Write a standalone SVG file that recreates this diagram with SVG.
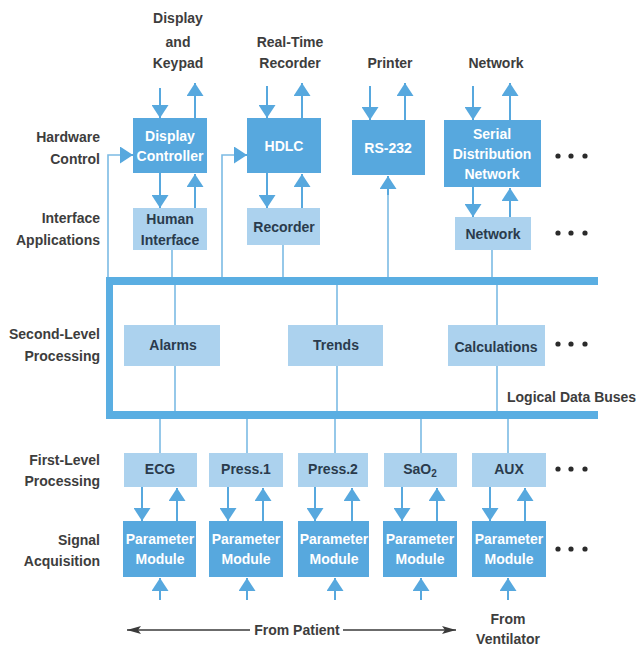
<svg xmlns="http://www.w3.org/2000/svg" width="640" height="647" viewBox="0 0 640 647">
<style>
text{font-family:"Liberation Sans",Arial,sans-serif;font-size:14px;font-weight:bold}
.lbl{fill:#3d3d3d}
.lblr{fill:#3d3d3d;text-anchor:end}
.dark{fill:#57a8de}
.light{fill:#acd2ee}
.wt{fill:#ffffff;text-anchor:middle}
.bt{fill:#2a3b4c;text-anchor:middle}
.ct{fill:#3d3d3d;text-anchor:middle}
.bus{fill:#5aaee2}
.ln{stroke:#7cbbe4;stroke-width:1.6;fill:none}
.ar{stroke:#57a8de;stroke-width:2;fill:none;marker-end:url(#ah)}
.dot{fill:#2b2b2b}
</style>
<defs>
<marker id="ah" viewBox="0 0 13 17" refX="13" refY="8.5" markerWidth="13" markerHeight="17" markerUnits="userSpaceOnUse" orient="auto">
<path d="M0,0 L13,8.5 L0,17 z" fill="#57a8de"/>
</marker>
<marker id="bk" viewBox="0 0 14 8" refX="14" refY="4" markerWidth="14" markerHeight="8" markerUnits="userSpaceOnUse" orient="auto">
<path d="M0,0 L14,4 L0,8 L3,4 z" fill="#3a3a3a"/>
</marker>
</defs>
<rect width="640" height="647" fill="#ffffff"/>

<!-- level labels -->
<g id="level-labels">
<text class="lblr" x="100" y="142">Hardware</text>
<text class="lblr" x="100" y="164">Control</text>
<text class="lblr" x="100" y="223">Interface</text>
<text class="lblr" x="100" y="245">Applications</text>
<text class="lblr" x="100" y="339">Second-Level</text>
<text class="lblr" x="100" y="361">Processing</text>
<text class="lblr" x="100" y="465">First-Level</text>
<text class="lblr" x="100" y="486">Processing</text>
<text class="lblr" x="100" y="545">Signal</text>
<text class="lblr" x="100" y="566">Acquisition</text>
</g>

<!-- top external labels -->
<g id="ext-labels">
<text class="ct" x="178" y="23">Display</text>
<text class="ct" x="178" y="47">and</text>
<text class="ct" x="178" y="68">Keypad</text>
<text class="ct" x="290" y="47">Real-Time</text>
<text class="ct" x="290" y="68">Recorder</text>
<text class="ct" x="390" y="68">Printer</text>
<text class="ct" x="496" y="68">Network</text>
</g>

<!-- buses -->
<g id="logical-data-buses">
<rect class="bus" x="106" y="277" width="492" height="8"/>
<rect class="bus" x="106" y="277" width="7" height="142"/>
<rect class="bus" x="106" y="411" width="492" height="8"/>
<text class="lbl" x="507" y="402">Logical Data Buses</text>
</g>

<!-- connectors -->
<g id="connectors">
<!-- thin bus lines -->
<path class="ln" d="M172,250 V277 M283,245 V277 M492,250 V277"/>
<path class="ln" d="M388,277 V193"/>
<path class="ln" d="M175,285 V411 M337,285 V411 M497,285 V411"/>
<path class="ln" d="M160,419 V453 M247,419 V453 M335,419 V453 M421,419 V453 M508,419 V453"/>
<path class="ln" d="M108,277 V155 H120 M222,277 V155 H234"/>
<!-- arrows -->
<path class="ar" d="M120,155 H133"/>
<path class="ar" d="M234,155 H247"/>
<path class="ar" d="M160,88 V118"/>
<path class="ar" d="M195,118 V83"/>
<path class="ar" d="M160,173 V208"/>
<path class="ar" d="M195,208 V174"/>
<path class="ar" d="M267,86 V118"/>
<path class="ar" d="M302,118 V83"/>
<path class="ar" d="M267,173 V208"/>
<path class="ar" d="M302,208 V174"/>
<path class="ar" d="M370,86 V120"/>
<path class="ar" d="M405,120 V83"/>
<path class="ar" d="M388,195 V176"/>
<path class="ar" d="M473,86 V120"/>
<path class="ar" d="M510,120 V83"/>
<path class="ar" d="M473,187 V217"/>
<path class="ar" d="M510,217 V188"/>
<!-- first-level to modules -->
<path class="ar" d="M142,487 V521"/>
<path class="ar" d="M177,521 V488"/>
<path class="ar" d="M228,487 V521"/>
<path class="ar" d="M263,521 V488"/>
<path class="ar" d="M315,487 V521"/>
<path class="ar" d="M352,521 V488"/>
<path class="ar" d="M402,487 V521"/>
<path class="ar" d="M437,521 V488"/>
<path class="ar" d="M490,487 V521"/>
<path class="ar" d="M525,521 V488"/>
<!-- inputs to modules -->
<path class="ar" d="M160,600 V578"/>
<path class="ar" d="M247,600 V578"/>
<path class="ar" d="M335,600 V578"/>
<path class="ar" d="M421,600 V578"/>
<path class="ar" d="M508,600 V578"/>
<!-- from patient -->
<path d="M250,630 H127" stroke="#3a3a3a" stroke-width="1.3" fill="none" marker-end="url(#bk)"/>
<path d="M343,630 H456" stroke="#3a3a3a" stroke-width="1.3" fill="none" marker-end="url(#bk)"/>
</g>

<g id="from-patient"><text class="ct" x="297" y="635">From Patient</text></g>
<g id="from-ventilator">
<text class="ct" x="508" y="624">From</text>
<text class="ct" x="508" y="644">Ventilator</text>
</g>

<!-- hardware control -->
<g id="display-controller">
<rect class="dark" x="133" y="118" width="74" height="55"/>
<text class="wt" x="170" y="141">Display</text>
<text class="wt" x="170" y="161">Controller</text>
</g>
<g id="hdlc">
<rect class="dark" x="247" y="118" width="74" height="55"/>
<text class="wt" x="284" y="151">HDLC</text>
</g>
<g id="rs-232">
<rect class="dark" x="352" y="120" width="73" height="55"/>
<text class="wt" x="388" y="153">RS-232</text>
</g>
<g id="serial-distribution-network">
<rect class="dark" x="444" y="120" width="97" height="67"/>
<text class="wt" x="492" y="139">Serial</text>
<text class="wt" x="492" y="159">Distribution</text>
<text class="wt" x="492" y="179">Network</text>
</g>

<!-- interface applications -->
<g id="human-interface">
<rect class="light" x="133" y="208" width="74" height="42"/>
<text class="bt" x="170" y="224">Human</text>
<text class="bt" x="170" y="245">Interface</text>
</g>
<g id="recorder">
<rect class="light" x="247" y="208" width="73" height="37"/>
<text class="bt" x="284" y="232">Recorder</text>
</g>
<g id="network">
<rect class="light" x="455" y="217" width="76" height="33"/>
<text class="bt" x="493" y="239">Network</text>
</g>

<!-- second-level -->
<g id="alarms">
<rect class="light" x="124" y="325" width="96" height="41"/>
<text class="bt" x="173" y="350">Alarms</text>
</g>
<g id="trends">
<rect class="light" x="288" y="325" width="95" height="41"/>
<text class="bt" x="336" y="350">Trends</text>
</g>
<g id="calculations">
<rect class="light" x="448" y="325" width="97" height="41"/>
<text class="bt" x="496" y="352">Calculations</text>
</g>

<!-- first-level -->
<g id="ecg">
<rect class="light" x="124" y="453" width="73" height="34"/>
<text class="bt" x="160" y="474">ECG</text>
</g>
<g id="press1">
<rect class="light" x="209" y="453" width="74" height="34"/>
<text class="bt" x="246" y="474">Press.1</text>
</g>
<g id="press2">
<rect class="light" x="298" y="453" width="70" height="34"/>
<text class="bt" x="333" y="474">Press.2</text>
</g>
<g id="sao2">
<rect class="light" x="384" y="453" width="73" height="34"/>
<text class="bt" x="420" y="474">SaO<tspan font-size="10" dy="3">2</tspan></text>
</g>
<g id="aux">
<rect class="light" x="472" y="453" width="74" height="34"/>
<text class="bt" x="509" y="474">AUX</text>
</g>

<!-- parameter modules -->
<g id="module-ecg">
<rect class="dark" x="123" y="521" width="73" height="56"/>
<text class="wt" x="160" y="544">Parameter</text>
<text class="wt" x="160" y="564">Module</text>
</g>
<g id="module-press1">
<rect class="dark" x="209" y="521" width="74" height="56"/>
<text class="wt" x="246" y="544">Parameter</text>
<text class="wt" x="246" y="564">Module</text>
</g>
<g id="module-press2">
<rect class="dark" x="298" y="521" width="71" height="56"/>
<text class="wt" x="334" y="544">Parameter</text>
<text class="wt" x="334" y="564">Module</text>
</g>
<g id="module-sao2">
<rect class="dark" x="383" y="521" width="74" height="56"/>
<text class="wt" x="420" y="544">Parameter</text>
<text class="wt" x="420" y="564">Module</text>
</g>
<g id="module-aux">
<rect class="dark" x="472" y="521" width="74" height="56"/>
<text class="wt" x="509" y="544">Parameter</text>
<text class="wt" x="509" y="564">Module</text>
</g>

<!-- ellipses -->
<g id="ellipses">
<circle class="dot" cx="558" cy="156" r="2.6"/><circle class="dot" cx="571" cy="156" r="2.6"/><circle class="dot" cx="585" cy="156" r="2.6"/>
<circle class="dot" cx="558" cy="233" r="2.6"/><circle class="dot" cx="571" cy="233" r="2.6"/><circle class="dot" cx="585" cy="233" r="2.6"/>
<circle class="dot" cx="558" cy="344" r="2.6"/><circle class="dot" cx="571" cy="344" r="2.6"/><circle class="dot" cx="585" cy="344" r="2.6"/>
<circle class="dot" cx="558" cy="469" r="2.6"/><circle class="dot" cx="571" cy="469" r="2.6"/><circle class="dot" cx="585" cy="469" r="2.6"/>
<circle class="dot" cx="558" cy="549" r="2.6"/><circle class="dot" cx="571" cy="549" r="2.6"/><circle class="dot" cx="585" cy="549" r="2.6"/>
</g>
</svg>
